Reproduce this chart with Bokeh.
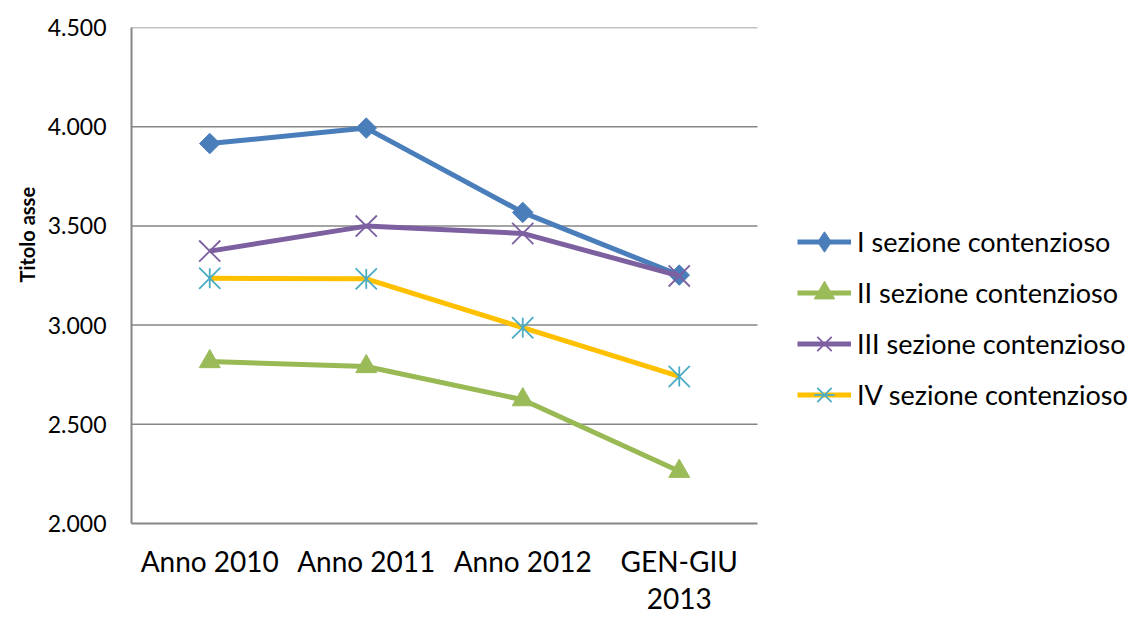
import math
from bokeh.plotting import figure
from bokeh.models import (Range1d, FixedTicker, Legend, LegendItem, Title)
from bokeh.embed import file_html
from bokeh.resources import INLINE

categories = ["Anno 2010", "Anno 2011", "Anno 2012", "GEN-GIU\n2013"]
series_names = ["I sezione contenzioso", "II sezione contenzioso",
                "III sezione contenzioso", "IV sezione contenzioso"]
sez_I = [3915, 3993, 3568, 3252]
sez_II = [2816, 2791, 2624, 2263]
sez_III = [3373, 3499, 3462, 3248]
sez_IV = [3236, 3233, 2987, 2741]
y_ticks = [2000, 2500, 3000, 3500, 4000, 4500]
y_tick_labels = ["2.000", "2.500", "3.000", "3.500", "4.000", "4.500"]
axis_title = "Titolo asse"

FONT = "Lato"

n = len(categories)
xs = [i + 0.5 for i in range(n)]          # category centres
W, H = 1129, 617
LEFT, TOP, BOTTOM = 131, 27, 93
CAT_PX = 156.5                            # pixel width of one category slot
x_end = (W - LEFT) / CAT_PX               # frame extends under the legend

p = figure(width=W, height=H, output_backend="svg", toolbar_location=None,
           x_range=Range1d(0, x_end), y_range=Range1d(y_ticks[0], y_ticks[-1]),
           min_border_left=LEFT, min_border_right=0, min_border_top=TOP,
           min_border_bottom=BOTTOM)
p.outline_line_color = None
p.background_fill_color = "white"
p.border_fill_color = "white"

# axes
p.yaxis.ticker = FixedTicker(ticks=y_ticks)
p.yaxis.major_label_overrides = {t: l for t, l in zip(y_ticks, y_tick_labels)}
p.xaxis.ticker = FixedTicker(ticks=xs)
p.xaxis.major_label_overrides = {x: c for x, c in zip(xs, categories)}
p.xaxis.bounds = (0, n)
for ax in (p.xaxis[0], p.yaxis[0]):
    ax.axis_line_color = "#868686"
    ax.axis_line_width = 2
    ax.major_tick_in = 0
    ax.major_tick_out = 0
    ax.minor_tick_in = 0
    ax.minor_tick_out = 0
    ax.major_label_text_font = FONT
    ax.major_label_text_color = "black"
p.yaxis.major_label_text_font_size = "23px"
p.yaxis.major_label_standoff = 25
p.xaxis.major_label_text_font_size = "28px"
p.xaxis.major_label_text_line_height = 1.1
p.xaxis.major_label_standoff = 20
p.xgrid.grid_line_color = None
p.ygrid.grid_line_color = None

# horizontal gridlines limited to the category area
p.segment(x0=[0] * len(y_ticks[1:]), x1=[n] * len(y_ticks[1:]),
          y0=y_ticks[1:], y1=y_ticks[1:], line_color="#868686", line_width=1.5)

items = []

# I - blue diamonds
l1 = p.line(xs, sez_I, line_color="#4A7EBB", line_width=5)
leg1 = p.scatter(xs, sez_I, marker="diamond", size=14,
                 fill_color="#4A7EBB", line_color="#4A7EBB")
p.scatter(xs, sez_I, marker="square", angle=math.pi / 4, size=14.5,
          fill_color="#4A7EBB", line_color="#4A7EBB")
items.append(LegendItem(label=series_names[0], renderers=[l1, leg1]))

# II - green triangles
l2 = p.line(xs, sez_II, line_color="#98B954", line_width=5)
m2 = p.scatter(xs, sez_II, marker="triangle", size=21,
               fill_color="#9BBB59", line_color="#9BBB59")
items.append(LegendItem(label=series_names[1], renderers=[l2, m2]))

# III - purple x
l3 = p.line(xs, sez_III, line_color="#7D60A0", line_width=5)
m3 = p.scatter(xs, sez_III, marker="x", size=30, line_color="#7D60A0",
               line_width=1.8)
items.append(LegendItem(label=series_names[2], renderers=[l3, m3]))

# IV - yellow line, cyan asterisk
l4 = p.line(xs, sez_IV, line_color="#FFC000", line_width=5)
m4a = p.scatter(xs, sez_IV, marker="x", size=30, line_color="#4BACC6",
                line_width=1.8)
m4b = p.scatter(xs, sez_IV, marker="dash", angle=math.pi / 2, size=20,
                line_color="#4BACC6", line_width=1.8)
items.append(LegendItem(label=series_names[3], renderers=[l4, m4a, m4b]))

legend = Legend(items=items, location=(666, 103), padding=0, margin=0,
                border_line_color=None, background_fill_alpha=0,
                glyph_width=54, glyph_height=51, spacing=0, label_standoff=6,
                label_text_font=FONT, label_text_font_size="27px",
                label_text_color="black", label_text_baseline="middle")
p.add_layout(legend, "center")

title = Title(text=axis_title, align="left", offset=241, standoff=12,
              text_font=FONT, text_font_size="20px", text_font_style="bold",
              text_color="black")
p.add_layout(title, "left")

open("out.html", "w").write(file_html(p, INLINE))
